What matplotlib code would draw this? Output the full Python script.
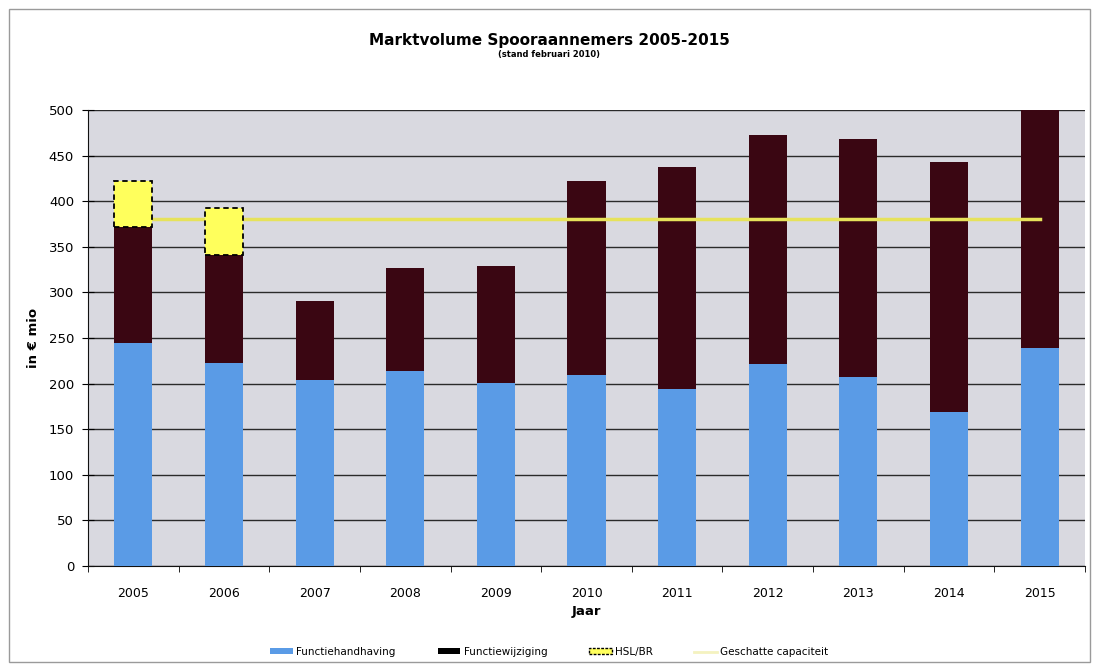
import numpy as np
import matplotlib.pyplot as plt
from matplotlib.patches import Patch, Rectangle
from matplotlib.lines import Line2D

years = ['2005', '2006', '2007', '2008', '2009', '2010', '2011', '2012', '2013', '2014', '2015']
functiehandhaving = [244, 223, 204, 214, 201, 209, 194, 222, 207, 169, 239]
functiewijziging = [128, 118, 87, 113, 128, 213, 243, 251, 261, 274, 265]
hsl_br = [50, 51, 0, 0, 0, 0, 0, 0, 0, 0, 0]
capaciteit = [380] * len(years)

c_blue = '#5a9be6'
c_dark = '#3a0612'
c_yellow = '#ffff5c'
c_line = '#e6e25a'

fig = plt.figure(figsize=(10.99, 6.70), dpi=100)
fig.patch.set_facecolor('white')
# outer chart border
fig.add_artist(Rectangle((0.008, 0.012), 0.984, 0.975, transform=fig.transFigure,
                         fill=False, edgecolor='#9a9a9a', linewidth=1.0))

ax = fig.add_axes([88 / 1099, 1 - 566 / 670, (1085 - 88) / 1099, (566 - 110) / 670])
ax.set_facecolor('#d9d9e0')

x = np.arange(len(years))
w = 0.42
blue = np.array(functiehandhaving)
dark = np.array(functiewijziging)
ax.bar(x, blue, w, color=c_blue, zorder=3)
ax.bar(x, dark, w, bottom=blue, color=c_dark, zorder=3)
ax.plot(x, capaciteit, color=c_line, linewidth=2.5, zorder=4)
# yellow HSL/BR segments sit on top and hide the capacity line
hsl = np.array(hsl_br)
mask = hsl > 0
ax.bar(x[mask], hsl[mask], w, bottom=(blue + dark)[mask], color=c_yellow,
       edgecolor='black', linestyle=(0, (3, 2)), linewidth=1.3, zorder=5)

ax.set_xlim(-0.5, len(years) - 0.5)
ax.set_ylim(0, 500)
ax.set_yticks(range(0, 501, 50))
ax.yaxis.grid(True, color='#2a2a2a', linewidth=1.0, zorder=1)
ax.set_axisbelow(True)
ax.set_xticks(x)
ax.set_xticklabels(years, fontsize=9)
ax.set_xticks(np.arange(-0.5, len(years)), minor=True)
ax.tick_params(axis='x', which='major', length=0, pad=15)
ax.tick_params(axis='x', which='minor', length=4, direction='out')
ax.tick_params(axis='y', length=8, direction='inout', labelsize=9.5, pad=6)
for s in ['top', 'right']:
    ax.spines[s].set_visible(False)
ax.spines['left'].set_color('#111111')
ax.spines['bottom'].set_color('#111111')

ax.set_xlabel('Jaar', fontsize=9.5, fontweight='bold', labelpad=4)
ax.set_ylabel('in € mio', fontsize=9.5, fontweight='bold', labelpad=6)

fig.text(0.5, 1 - 40 / 670, 'Marktvolume Spooraannemers 2005-2015', ha='center', va='center',
         fontsize=11, fontweight='bold')
fig.text(0.5, 1 - 55 / 670, '(stand februari 2010)', ha='center', va='center',
         fontsize=6, fontweight='bold')

handles = [
    Patch(facecolor=c_blue, label='Functiehandhaving'),
    Patch(facecolor='black', label='Functiewijziging'),
    Patch(facecolor=c_yellow, edgecolor='black', linestyle=(0, (2, 1)), label='HSL/BR'),
    Line2D([0], [0], color='#f4f2c0', linewidth=2, label='Geschatte capaciteit'),
]
fig.legend(handles=handles, loc='center', bbox_to_anchor=(0.5, 1 - 652 / 670), ncol=4,
           frameon=False, fontsize=7.5, handlelength=2.2, handleheight=0.5,
           columnspacing=4, handletextpad=0.3)

fig.savefig('out.png', dpi=100)
